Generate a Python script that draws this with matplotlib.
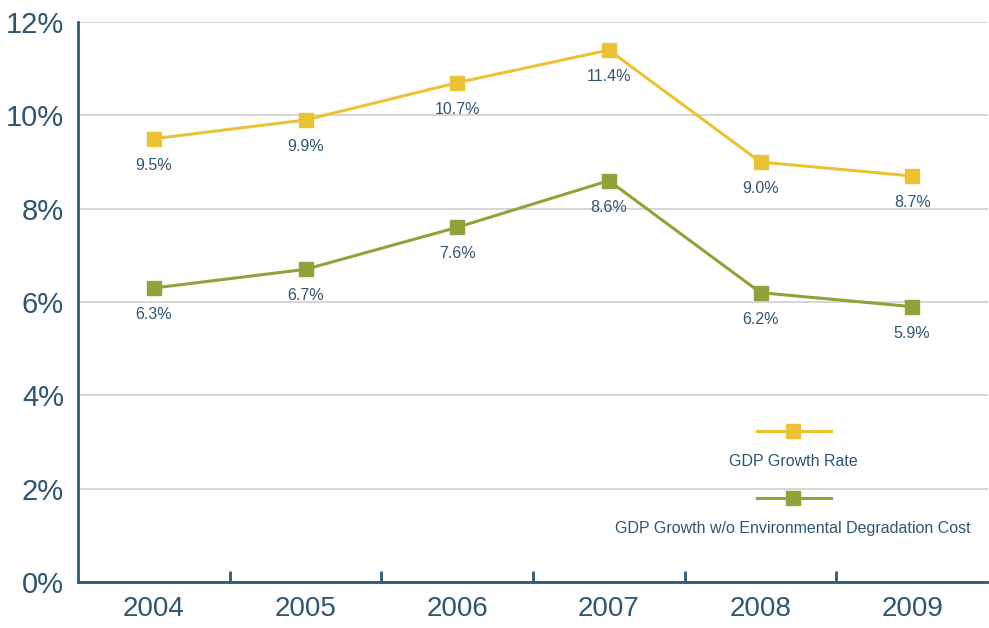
import matplotlib.pyplot as plt
from matplotlib.lines import Line2D

years = ['2004', '2005', '2006', '2007', '2008', '2009']
gdp_growth = [9.5, 9.9, 10.7, 11.4, 9.0, 8.7]
gdp_green = [6.3, 6.7, 7.6, 8.6, 6.2, 5.9]
series_names = ['GDP Growth Rate', 'GDP Growth w/o Environmental Degradation Cost']

txt = '#2f5670'
spine = '#2b5a73'
yellow = '#EBC234'
green = '#8FA33A'

plt.rcParams['font.family'] = ['Liberation Sans', 'DejaVu Sans']

fig = plt.figure(figsize=(9.89, 6.28), dpi=100)
ax = fig.add_axes([78 / 989, 1 - 582 / 628, 910 / 989, 560 / 628])

x = list(range(len(years)))
for vals, col in [(gdp_growth, yellow), (gdp_green, green)]:
    ax.plot(x, vals, color=col, lw=2.2, marker='s', ms=10.5, zorder=3)
    for xi, v in zip(x, vals):
        ax.annotate(f'{v:.1f}%', (xi, v), xytext=(0, -19), textcoords='offset points',
                    ha='center', va='center', fontsize=11.5, color=txt)

ax.set_xlim(-0.5, len(years) - 0.5)
ax.set_ylim(0, 12)
ax.set_yticks(range(0, 13, 2))
ax.set_yticklabels([f'{t}%' for t in range(0, 13, 2)], fontsize=21, color=txt)
ax.yaxis.grid(True, color='#d0d0d0', lw=1.2)
ax.set_axisbelow(True)
ax.tick_params(axis='y', length=0, pad=10)

ax.set_xticks(x)
ax.set_xticklabels(years, fontsize=20, color=txt)
ax.set_xticks([i + 0.5 for i in x[:-1]], minor=True)
ax.tick_params(axis='x', which='major', length=0, pad=10)
ax.tick_params(axis='x', which='minor', direction='in', length=8, width=2, color=spine)

for s in ['top', 'right']:
    ax.spines[s].set_visible(False)
for s in ['left', 'bottom']:
    ax.spines[s].set_color(spine)
    ax.spines[s].set_linewidth(2)

# legend: line sample above, label below
for (yl, yt), col, name in zip([(0.27, 0.216), (0.15, 0.096)], [yellow, green], series_names):
    ax.add_line(Line2D([0.746, 0.828], [yl, yl], transform=ax.transAxes, color=col, lw=2.2,
                       clip_on=False))
    ax.add_line(Line2D([0.786], [yl], transform=ax.transAxes, color=col, marker='s', ms=10.5,
                       clip_on=False))
    ax.text(0.786, yt, name, transform=ax.transAxes, ha='center', va='center',
            fontsize=11.5, color=txt)

fig.savefig('out.png', dpi=100)
